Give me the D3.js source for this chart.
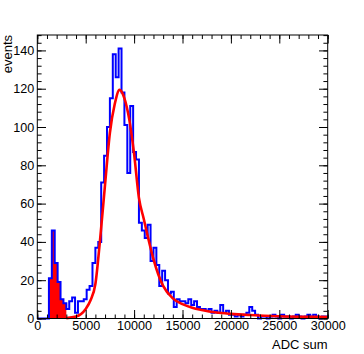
<!DOCTYPE html>
<html><head><meta charset="utf-8">
<script src="https://cdn.jsdelivr.net/npm/d3@7"></script>
<style>
body{margin:0;background:#fff}
svg{display:block}
text{font-family:"Liberation Sans",Arial,Helvetica,sans-serif}
</style>
</head><body><svg id="c" width="364" height="354"></svg>
<script>
// ---- data ----
const binLow = 0;
const binWidth = 300;
const counts = [
  0,0,0,0,21,46,29,19,10,8,
  5,9,11,3,9,9,10,15,17,29,
  37,40,71,85,100,115,138,126,141,118,
  101,76,111,87,83,50,46,42,49,30,
  37,28,17,25,20,13,14,6,10,9,
  9,8,10,7,9,6,5,5,4,5,
  3,4,3,7,3,4,2,2,1,2,
  1,2,3,6,4,2,0,1,1,0,
  1,2,1,0,2,1,1,0,1,2,
  1,0,1,2,1,2,1,0,1,1
];
const filledBins = [4, 9];   // first and last bin of the red-filled part
const fitX = [3000,4000,5000,5500,6000,6500,7000,7500,8000,8500,9000,9500,10000,10500,11000,11500,12000,12500,13000,14000,15000,16000,17000,18500,20000,22000,25000,28000,30000];
const fitY = [0.2,1,5,9.5,18,42,70,97,112,119.4,115,104,86,63,52,41,31,23,17,10.5,7.5,5.6,4.4,3.1,2.4,1.8,1.2,0.9,0.8];
const xTicks = [0,5000,10000,15000,20000,25000,30000];
const yTicks = [0,20,40,60,80,100,120,140];
const xMinor = d3.range(0, 30001, 1000);
const yMinor = d3.range(0, 149, 4);
const xTitle = "ADC sum";
const yTitle = "events";
const xDomain = [0, 30000];
const yDomain = [0, 148.05];

// ---- layout ----
const L = 37.3, R = 327.7, T = 35, B = 318.5;
const svg = d3.select("#c");
const x = d3.scaleLinear().domain(xDomain).range([L, R]);
const y = d3.scaleLinear().domain(yDomain).range([B, T]);

const bins = counts.map((c, i) => ({x0: binLow + i*binWidth, x1: binLow + (i+1)*binWidth, c}));

// red filled part
const fillPts = [];
bins.slice(filledBins[0], filledBins[1]+1).forEach(b => { fillPts.push([b.x0, b.c]); fillPts.push([b.x1, b.c]); });
svg.append("path")
  .attr("d", d3.area().x(d => x(d[0])).y0(y(0)).y1(d => y(d[1]))(fillPts))
  .attr("fill", "#ff0000");

// histogram outline
const stepPts = [[bins[0].x0, 0]];
bins.forEach(b => { stepPts.push([b.x0, b.c]); stepPts.push([b.x1, b.c]); });
svg.append("path")
  .attr("d", d3.line().x(d => x(d[0])).y(d => y(d[1]))(stepPts))
  .attr("fill", "none").attr("stroke", "#0000ff").attr("stroke-width", 2)
  .attr("stroke-linejoin", "miter");

// fit
svg.append("path")
  .attr("d", d3.line().x((d,i) => x(fitX[i])).y(d => y(d)).curve(d3.curveMonotoneX)(fitY))
  .attr("fill", "none").attr("stroke", "#ff0000").attr("stroke-width", 2.6);

// axes
function ax(gen, tr, vals, size, labels) {
  const g = svg.append("g").attr("transform", tr)
    .call(gen.tickValues(vals).tickSizeInner(size).tickSizeOuter(0).tickPadding(3)
      .tickFormat(labels ? d3.format("d") : ""));
  g.select(".domain").remove();
  g.selectAll("line").attr("stroke", "#000").attr("stroke-width", 1);
  g.selectAll("text").attr("font-size", "12.6px").attr("fill", "#000")
    .attr("font-family", "'Liberation Sans',Arial,sans-serif");
  return g;
}
ax(d3.axisBottom(x), `translate(0,${B})`, xMinor, -4, false);
ax(d3.axisBottom(x), `translate(0,${B})`, xTicks, -8.5, true);
ax(d3.axisTop(x), `translate(0,${T})`, xMinor, -4, false);
ax(d3.axisTop(x), `translate(0,${T})`, xTicks, -8.5, false);
ax(d3.axisLeft(y), `translate(${L},0)`, yMinor, -4.3, false);
ax(d3.axisLeft(y), `translate(${L},0)`, yTicks, -8.7, true);
ax(d3.axisRight(y), `translate(${R},0)`, yMinor, -4.3, false);
ax(d3.axisRight(y), `translate(${R},0)`, yTicks, -8.7, false);

// frame
svg.append("rect").attr("x", L).attr("y", T).attr("width", R-L).attr("height", B-T)
  .attr("fill", "none").attr("stroke", "#000").attr("stroke-width", 1);

// titles
svg.append("text").attr("x", R).attr("y", 348.5).attr("text-anchor", "end")
  .attr("font-size", "13px").text(xTitle);
svg.append("text").attr("transform", `translate(11.5,${T}) rotate(-90)`)
  .attr("text-anchor", "end").attr("font-size", "13px").text(yTitle);
</script>
</body></html>
